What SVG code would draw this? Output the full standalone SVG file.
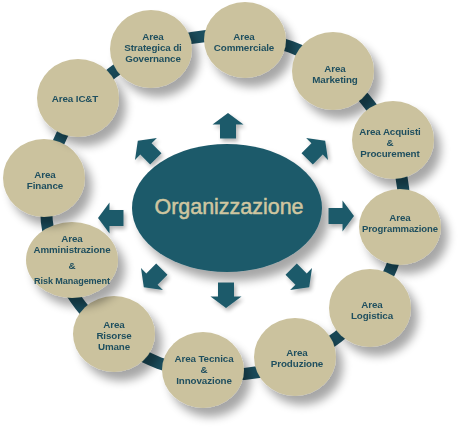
<svg xmlns="http://www.w3.org/2000/svg" width="474" height="443" viewBox="0 0 474 443">
<defs>
<filter id="sh" x="-40%" y="-40%" width="190%" height="190%">
<feGaussianBlur in="SourceAlpha" stdDeviation="5"/>
<feOffset dx="7" dy="9" result="b"/>
<feComponentTransfer><feFuncA type="linear" slope="0.35"/></feComponentTransfer>
<feMerge><feMergeNode/><feMergeNode in="SourceGraphic"/></feMerge>
</filter>
<filter id="sh2" x="-40%" y="-40%" width="190%" height="190%">
<feGaussianBlur in="SourceAlpha" stdDeviation="2"/>
<feOffset dx="2" dy="3" result="b"/>
<feComponentTransfer><feFuncA type="linear" slope="0.3"/></feComponentTransfer>
<feMerge><feMergeNode/><feMergeNode in="SourceGraphic"/></feMerge>
</filter>
<path id="arr" d="M-12.5,-8 H1.5 V-15.5 L13,0 L1.5,15.5 V8 H-12.5 Z"/>
</defs>
<style>
.c{fill:#cbc29e;filter:url(#sh)}
.t{font-family:"Liberation Sans",Arial,sans-serif;font-weight:bold;font-size:9.8px;fill:#1f4f5f;text-anchor:middle;letter-spacing:-0.1px}
.a{fill:#1e5a6a}
</style>
<rect width="474" height="443" fill="#ffffff"/>
<g id="connectors">
<ellipse cx="225" cy="205" rx="179" ry="170" fill="none" stroke="#1b4e5e" stroke-width="12"/>
</g>
<g id="center">
<ellipse cx="227" cy="208" rx="95" ry="64" fill="#1e5a6a" filter="url(#sh)"/>
<text x="229" y="214" font-family="Liberation Sans,Arial,sans-serif" font-size="21.5" fill="#cfc6a0" stroke="#cfc6a0" stroke-width="0.5" text-anchor="middle" textLength="149" lengthAdjust="spacingAndGlyphs">Organizzazione</text>
</g>
<g id="arrows" class="a" filter="url(#sh2)">
<use href="#arr" transform="translate(228,126) rotate(-90)"/>
<use href="#arr" transform="translate(226,295) rotate(90)"/>
<use href="#arr" transform="translate(341,216)"/>
<use href="#arr" transform="translate(111,218) rotate(180)"/>
<use href="#arr" transform="translate(147,150) rotate(-135)"/>
<use href="#arr" transform="translate(316,150) rotate(-45)"/>
<use href="#arr" transform="translate(153,278) rotate(135)"/>
<use href="#arr" transform="translate(300,278) rotate(45)"/>
</g>
<g id="n-strategica"><ellipse class="c" cx="151" cy="49" rx="41" ry="39"/>
<text class="t" x="153" y="40">Area</text><text class="t" x="153" y="51">Strategica di</text><text class="t" x="153" y="62">Governance</text></g>
<g id="n-commerciale"><ellipse class="c" cx="245" cy="40" rx="41" ry="38"/>
<text class="t" x="244" y="40">Area</text><text class="t" x="244" y="51">Commerciale</text></g>
<g id="n-marketing"><ellipse class="c" cx="333" cy="71" rx="41" ry="39"/>
<text class="t" x="335" y="72">Area</text><text class="t" x="335" y="83">Marketing</text></g>
<g id="n-acquisti"><ellipse class="c" cx="393" cy="140" rx="41" ry="39"/>
<text class="t" x="390" y="135">Area Acquisti</text><text class="t" x="390" y="146">&amp;</text><text class="t" x="390" y="157">Procurement</text></g>
<g id="n-programmazione"><ellipse class="c" cx="400" cy="227" rx="41" ry="38"/>
<text class="t" x="400" y="221">Area</text><text class="t" x="400" y="232" textLength="76" lengthAdjust="spacingAndGlyphs">Programmazione</text></g>
<g id="n-logistica"><ellipse class="c" cx="370" cy="308" rx="41" ry="39"/>
<text class="t" x="372" y="308">Area</text><text class="t" x="372" y="319">Logistica</text></g>
<g id="n-produzione"><ellipse class="c" cx="295" cy="357" rx="41" ry="39"/>
<text class="t" x="297" y="356">Area</text><text class="t" x="297" y="367">Produzione</text></g>
<g id="n-tecnica"><ellipse class="c" cx="203" cy="370" rx="41" ry="38"/>
<text class="t" x="204" y="362">Area Tecnica</text><text class="t" x="204" y="373">&amp;</text><text class="t" x="204" y="384">Innovazione</text></g>
<g id="n-risorse"><ellipse class="c" cx="114" cy="334" rx="41" ry="38"/>
<text class="t" x="114" y="328">Area</text><text class="t" x="114" y="339">Risorse</text><text class="t" x="114" y="350">Umane</text></g>
<g id="n-amministrazione"><ellipse class="c" cx="72" cy="260" rx="46" ry="38"/>
<text class="t" x="72" y="242">Area</text><text class="t" x="72" y="253" textLength="77" lengthAdjust="spacingAndGlyphs">Amministrazione</text><text class="t" x="72" y="269">&amp;</text><text class="t" x="72" y="284" textLength="76" lengthAdjust="spacingAndGlyphs">Risk Management</text></g>
<g id="n-finance"><ellipse class="c" cx="44" cy="178" rx="41" ry="39"/>
<text class="t" x="45" y="178">Area</text><text class="t" x="45" y="189">Finance</text></g>
<g id="n-ict"><ellipse class="c" cx="78" cy="98" rx="41" ry="39"/>
<text class="t" x="75" y="102">Area IC&amp;T</text></g>
</svg>
